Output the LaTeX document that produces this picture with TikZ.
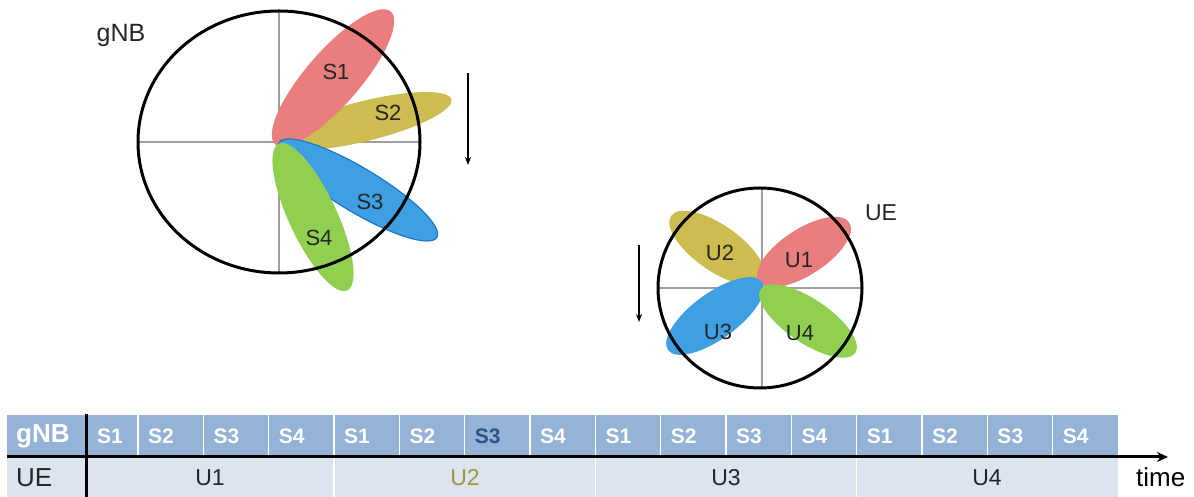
\documentclass[tikz,border=0pt]{standalone}
\usepackage{fontspec}
\setmainfont{Liberation Sans}
\usetikzlibrary{arrows.meta}

\definecolor{lobrojo}{RGB}{234,126,126}
\definecolor{lobamarillo}{RGB}{205,189,80}
\definecolor{lobazul}{RGB}{62,160,227}
\definecolor{bordeazul}{RGB}{30,118,200}
\definecolor{lobverde}{RGB}{144,207,80}
\definecolor{filagnb}{RGB}{149,179,215}
\definecolor{filaue}{RGB}{220,228,239}
\definecolor{textoscuro}{RGB}{38,38,38}
\definecolor{celdaoscura}{RGB}{40,84,135}
\definecolor{textoolivo}{RGB}{160,150,62}

\begin{document}
\begin{tikzpicture}[x=1bp,y=1bp,
    eje/.style={draw=gray!75, line width=1.4bp},
    borde/.style={draw=black, line width=3bp},
    flecha/.style={line width=1.3bp, -{Stealth[length=8bp,width=6bp]}},
    etiq/.style={inner sep=0pt, text=textoscuro, font=\fontsize{22bp}{26bp}\selectfont},
    celda/.style={inner sep=0pt, anchor=west, text=white, font=\fontsize{21bp}{25bp}\selectfont\bfseries}]
    \useasboundingbox (0,0) rectangle (1194,497);

    %%%% gNB
    \draw [eje] (138,355) -- (420,355);
    \draw [eje] (279,485) -- (279,225);
    \fill [lobamarillo, rotate around={14:(365,376)}] (365,376) ellipse (89 and 20);
    \fill [lobrojo, rotate around={49:(333,419)}] (333,419) ellipse (88 and 27);
    \filldraw [fill=lobazul, draw=bordeazul, line width=1.2bp, rotate around={-31:(358,307)}] (358,307) ellipse (92 and 22);
    \fill [lobverde, rotate around={-65:(313,280)}] (313,280) ellipse (81 and 24);
    \draw [borde] (279,355) ellipse (141 and 131);
    \node[etiq] (s1) at (336,425) {S1};
    \node[etiq] (s2) at (388,384) {S2};
    \node[etiq] (s3) at (370,295) {S3};
    \node[etiq] (s4) at (319,259) {S4};
    \node[etiq, font=\fontsize{25bp}{30bp}\selectfont] (gnb) at (121,461) {gNB};
    \coordinate (garriba) at (468,424);
    \coordinate (gabajo) at (468,332);
    \draw [flecha] (garriba) -- (gabajo);

    %%%% UE
    \draw [eje] (658,209) -- (862,209);
    \draw [eje] (762,309) -- (762,109);
    \fill [lobamarillo, rotate around={145:(717,249)}] (717,249) ellipse (56 and 23);
    \fill [lobrojo, rotate around={33:(804,245)}] (804,245) ellipse (54 and 23);
    \fill [lobazul, rotate around={216:(715,181)}] (715,181) ellipse (58 and 23);
    \fill [lobverde, rotate around={-34:(808,176)}] (808,176) ellipse (57 and 22);
    \draw [borde] (760,209) ellipse (102 and 100);
    \node[etiq] (u1) at (799,237) {U1};
    \node[etiq] (u2) at (720,244) {U2};
    \node[etiq] (u3) at (718,165) {U3};
    \node[etiq] (u4) at (800,164) {U4};
    \node[etiq, font=\fontsize{23bp}{27bp}\selectfont] (ue) at (881,284) {UE};
    \coordinate (uarriba) at (639,252);
    \coordinate (uabajo) at (639,175);
    \draw [flecha] (uarriba) -- (uabajo);

    %%%% tabla
    \fill [filagnb] (7,40) rectangle (1118,82);
    \fill [filaue] (7,0) rectangle (1118,40);
    \foreach \k in {1,...,15}
        \draw [white, line width=1.5bp] ({138+65.33*(\k-1)},41) -- ++(0,41);
    \foreach \k in {3,7,11}
        \draw [white, line width=1.5bp] ({138+65.33*\k},0) -- ++(0,39);
    \node[celda, font=\fontsize{26bp}{30bp}\selectfont\bfseries] (tgnb) at (16,61) {gNB};
    \foreach \k in {0,...,15}{
        \pgfmathtruncatemacro\s{mod(\k,4)+1}
        \pgfmathsetmacro\xl{\k==0 ? 97 : 148+65.33*(\k-1)}
        \ifnum\k=6 \def\tc{celdaoscura}\else\def\tc{white}\fi
        \node[celda, text=\tc] (c\k) at (\xl,61) {S\s};
    }
    \node[etiq, anchor=west, font=\fontsize{26bp}{30bp}\selectfont] (tue) at (16,19) {UE};
    \node[etiq, font=\fontsize{23bp}{27bp}\selectfont] (tu1) at (210,19) {U1};
    \node[etiq, text=textoolivo, font=\fontsize{23bp}{27bp}\selectfont] (tu2) at (465,19) {U2};
    \node[etiq, font=\fontsize{23bp}{27bp}\selectfont] (tu3) at (726,19) {U3};
    \node[etiq, font=\fontsize{23bp}{27bp}\selectfont] (tu4) at (987,19) {U4};
    \node[etiq, anchor=base west, text=black, font=\fontsize{26bp}{30bp}\selectfont] (time) at (1136,10) {time};
    % eje del tiempo
    \coordinate (tinicio) at (7,40);
    \coordinate (tfin) at (1168,40);
    \draw [line width=3bp, -{Stealth[length=11bp,width=10bp]}] (tinicio) -- (tfin);
    \draw [line width=3bp] (86,83) -- (86,0);
\end{tikzpicture}
\end{document}
